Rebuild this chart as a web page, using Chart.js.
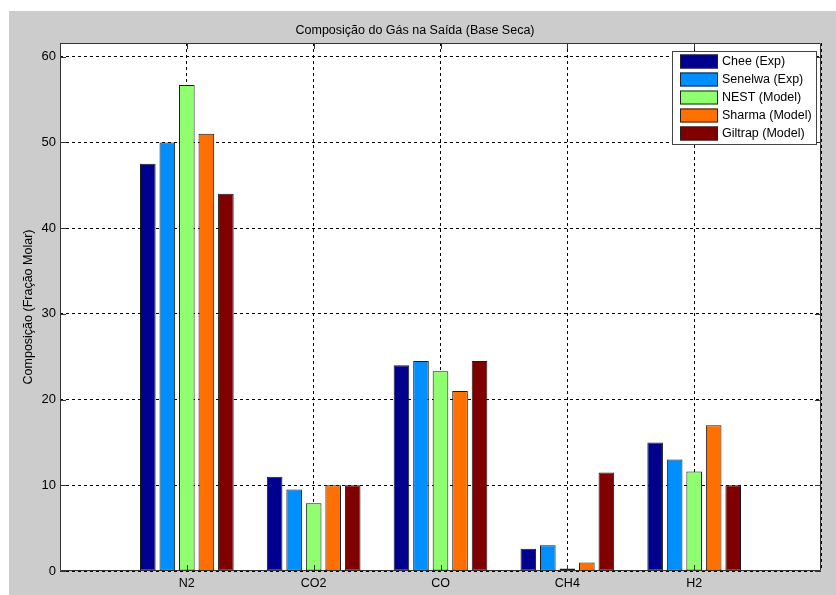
<!DOCTYPE html>
<html lang="pt">
<head>
    <meta charset="UTF-8">
    <title>Composição do Gás na Saída</title>
    <script src="https://cdn.jsdelivr.net/npm/chart.js"></script>
    <style>
        html, body { margin: 0; padding: 0; background: #ffffff; }
        #wrap { width: 836px; height: 595px; position: relative; }
    </style>
</head>
<body>
    <div id="wrap"><canvas id="gasChart"></canvas></div>
    <script>
        // data
        const categories = ['N2', 'CO2', 'CO', 'CH4', 'H2'];
        const seriesNames = ['Chee (Exp)', 'Senelwa (Exp)', 'NEST (Model)', 'Sharma (Model)', 'Giltrap (Model)'];
        const seriesColors = ['#00008F', '#008FFF', '#8FFF70', '#FF7000', '#800000'];
        const chee    = [47.5, 11.0, 24.0, 2.6, 15.0];
        const senelwa = [50.0, 9.5, 24.5, 3.0, 13.0];
        const nest    = [56.7, 7.9, 23.3, 0.3, 11.6];
        const sharma  = [51.0, 10.0, 21.0, 1.0, 17.0];
        const giltrap = [44.0, 10.0, 24.5, 11.5, 10.0];
        const yTicks = [0, 10, 20, 30, 40, 50, 60];

        const FONT = '"Liberation Sans", Arial, sans-serif';
        const allSeries = [chee, senelwa, nest, sharma, giltrap];

        // empty slots at both ends give the x range 0..6 like the original axes
        const labels = [''].concat(categories, ['']);

        const datasets = allSeries.map((vals, i) => ({
            label: seriesNames[i],
            data: [null].concat(vals, [null]),
            backgroundColor: seriesColors[i],
            borderColor: '#1a1a1a',
            borderWidth: 1,
            borderSkipped: false,
            categoryPercentage: 5 / 6.5,
            barPercentage: 0.8
        }));

        const frame = {
            id: 'frame',
            beforeDraw(chart) {
                const { ctx, width, height, chartArea: a } = chart;
                ctx.save();
                ctx.fillStyle = '#ffffff';
                ctx.fillRect(0, 0, width, height);
                ctx.fillStyle = '#cccccc';
                ctx.fillRect(9, 11, width - 9, height - 11);
                ctx.fillStyle = '#ffffff';
                ctx.fillRect(a.left, a.top, a.right - a.left, a.bottom - a.top);
                ctx.restore();
            },
            afterDraw(chart) {
                const { ctx, chartArea: a, scales } = chart;
                ctx.save();
                ctx.strokeStyle = '#333333';
                ctx.lineWidth = 1;
                ctx.beginPath();
                // box
                ctx.rect(Math.round(a.left) + 0.5, Math.round(a.top) + 0.5,
                         Math.round(a.right - a.left) - 1, Math.round(a.bottom - a.top) - 1);
                // inward tick marks
                const tl = 6;
                yTicks.forEach(v => {
                    const y = Math.round(scales.y.getPixelForValue(v)) + 0.5;
                    ctx.moveTo(a.left, y); ctx.lineTo(a.left + tl, y);
                    ctx.moveTo(a.right, y); ctx.lineTo(a.right - tl, y);
                });
                categories.forEach((c, i) => {
                    const x = Math.round(scales.x.getPixelForValue(i + 1)) + 0.5;
                    ctx.moveTo(x, a.bottom); ctx.lineTo(x, a.bottom - tl);
                    ctx.moveTo(x, a.top); ctx.lineTo(x, a.top + tl);
                });
                ctx.stroke();

                // legend box inside the axes, top right
                const lx = 672, ly = 51, lw = 144, lh = 93;
                ctx.fillStyle = '#ffffff';
                ctx.fillRect(lx, ly, lw, lh);
                ctx.strokeStyle = '#444444';
                ctx.strokeRect(lx + 0.5, ly + 0.5, lw, lh);
                ctx.font = '12.5px ' + FONT;
                ctx.textBaseline = 'middle';
                chart.data.datasets.forEach((ds, i) => {
                    const sy = ly + 3.5 + i * 18;
                    ctx.fillStyle = ds.backgroundColor;
                    ctx.fillRect(lx + 8, sy, 38, 14);
                    ctx.strokeStyle = '#222222';
                    ctx.strokeRect(lx + 8.5, sy + 0.5, 37, 13);
                    ctx.fillStyle = '#000000';
                    ctx.fillText(ds.label, lx + 50, sy + 7.5);
                });
                ctx.restore();
            }
        };

        new Chart(document.getElementById('gasChart'), {
            type: 'bar',
            data: { labels: labels, datasets: datasets },
            plugins: [frame],
            options: {
                responsive: true,
                maintainAspectRatio: false,
                animation: false,
                layout: { padding: { left: 9, top: 0, right: 15, bottom: 0 } },
                plugins: {
                    legend: { display: false },
                    tooltip: { enabled: false },
                    title: {
                        display: true,
                        text: 'Composição do Gás na Saída (Base Seca)',
                        color: '#000000',
                        font: { family: FONT, size: 12.5, weight: 'normal' },
                        padding: { top: 23.5, bottom: 4.5 }
                    }
                },
                scales: {
                    x: {
                        offset: false,
                        grid: {
                            offset: false,
                            color: '#000000',
                            drawTicks: false
                        },
                        border: { display: false, dash: [3, 3] },
                        ticks: {
                            color: '#000000',
                            font: { family: FONT, size: 12.5 },
                            padding: 5,
                            maxRotation: 0,
                            autoSkip: false
                        },
                        afterFit(scale) { scale.height = 24; }
                    },
                    y: {
                        min: 0,
                        max: 61.6,
                        grid: { color: '#000000', drawTicks: false },
                        border: { display: false, dash: [3, 3] },
                        ticks: {
                            stepSize: 10,
                            includeBounds: false,
                            color: '#000000',
                            font: { family: FONT, size: 13 },
                            padding: 4
                        },
                        title: {
                            display: true,
                            text: 'Composição (Fração Molar)',
                            color: '#000000',
                            font: { family: FONT, size: 12.5 },
                            padding: { top: 12.5, bottom: 0 }
                        },
                        afterFit(scale) { scale.width = 51; }
                    }
                }
            }
        });
    </script>
</body>
</html>
